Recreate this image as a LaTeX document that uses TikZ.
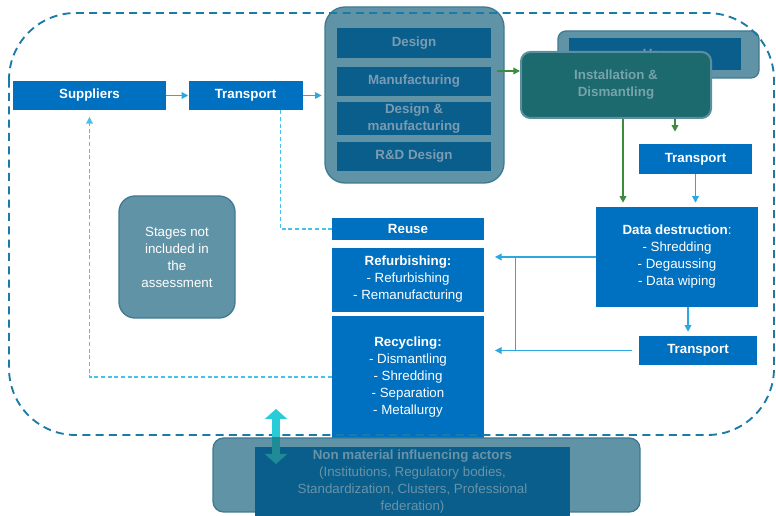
\documentclass[tikz,border=0pt]{standalone}
\usepackage{fontspec}
\setmainfont{Liberation Sans}
\usetikzlibrary{arrows.meta,calc,positioning}
\newcommand\stagefont{\fontsize{10}{12.75}\selectfont}
\definecolor{stageblue}{HTML}{0070C0}
\definecolor{panelgray}{HTML}{6193A7}
\definecolor{paneledge}{HTML}{3F7A92}
\definecolor{ghostblue}{HTML}{0A5E8B}
\definecolor{ghosttext}{HTML}{7A9CB2}
\definecolor{installteal}{HTML}{1C6A6E}
\definecolor{installedge}{HTML}{5B8F9F}
\definecolor{installtext}{HTML}{76A3AC}
\definecolor{flowblue}{HTML}{2AA9E0}
\definecolor{dashlight}{HTML}{45C1EE}
\definecolor{boundblue}{HTML}{1A7BA6}
\definecolor{greenflow}{HTML}{3D8B3D}
\definecolor{cyanarrow}{HTML}{27CCD8}
\definecolor{cyandark}{HTML}{1F8B96}
\definecolor{actortext}{HTML}{6893A8}
\tikzset{
  stage/.style={fill=stageblue, text=white, font=\stagefont\bfseries, inner sep=0pt, align=center},
  listbox/.style={fill=stageblue, text=white, font=\stagefont, inner sep=0pt, align=center, minimum width=114pt},
  ghost/.style={fill=ghostblue, text=ghosttext, font=\stagefont\bfseries, inner sep=0pt, align=center, minimum width=115.5pt},
  panel/.style={draw=paneledge, line width=1pt, fill=panelgray, inner sep=0pt, align=center},
  install/.style={draw=installedge, line width=1.5pt, fill=installteal, rounded corners=7pt, text=installtext, font=\stagefont\bfseries, inner sep=0pt, align=center},
  flow/.style={-{Triangle[length=5pt,width=5pt]}, line width=0.9pt, draw=flowblue},
  link/.style={line width=0.9pt, draw=flowblue},
  greenlink/.style={-{Triangle[length=5pt,width=5pt]}, line width=1.1pt, draw=greenflow},
  returnlink/.style={line width=0.9pt, draw=dashlight, dash pattern=on 3pt off 2pt},
  boundary/.style={line width=1.4pt, draw=boundblue, dash pattern=on 6pt off 4pt, rounded corners=50pt},
  influence/.style={{Triangle[length=7.5pt,width=16.5pt]}-{Triangle[length=7.5pt,width=16.5pt]}, line width=6pt, draw=cyanarrow}
}
\begin{document}
\begin{tikzpicture}[x=0.75pt, y=-0.75pt]
  \useasboundingbox (0,0) rectangle (776,516);

  % supply side
  \node[stage, minimum width=114.75pt, minimum height=21.75pt] (suppliers) at (89.5,95.5) {Suppliers};
  \node[stage, minimum width=85.5pt, minimum height=21.75pt, right=16.5pt of suppliers] (transport1) {Transport};

  % production group
  \node[panel, minimum width=134.25pt, minimum height=132pt, rounded corners=15pt] (production) at (414.5,95) {};
  \node[ghost, minimum height=22.5pt] (design) at (414,43) {Design};
  \node[ghost, minimum height=21.75pt, below=6pt of design] (manufacturing) {Manufacturing};
  \node[ghost, minimum height=24.75pt, below=4.5pt of manufacturing] (codesign) {Design \&\\manufacturing};
  \node[ghost, minimum height=21.75pt, below=4.5pt of codesign] (rnd) {R\&D Design};

  % use phase
  \node[panel, minimum width=150.75pt, minimum height=35.25pt, rounded corners=6pt] (useframe) at (658.5,54.5) {};
  \node[ghost, minimum width=129pt, minimum height=24pt] (use) at (655,54) {Use};
  \node[install, minimum width=142.5pt, minimum height=49.5pt] (install) at (616,85) {Installation \&\\Dismantling};

  \node[stage, minimum width=84.75pt, minimum height=22.5pt] (transport2) at (695.5,159) {Transport};
  \node[listbox, minimum width=121.5pt, minimum height=75pt] (destruction) at (677,257) {\textbf{Data destruction}:\\- Shredding\\- Degaussing\\- Data wiping};
  \node[stage, minimum width=88.5pt, minimum height=21.75pt] (transport3) at (698,350.5) {Transport};

  % end of life
  \node[stage, minimum width=114pt, minimum height=16.5pt] (reuse) at (408,229) {Reuse};
  \node[listbox, minimum height=48pt, below=5.25pt of reuse] (refurbishing) {\textbf{Refurbishing:}\\- Refurbishing\\- Remanufacturing};
  \node[listbox, minimum height=91.5pt, below=3pt of refurbishing] (recycling) {\textbf{Recycling:}\\- Dismantling\\- Shredding\\- Separation\\- Metallurgy};

  \node[panel, text=white, font=\stagefont, minimum width=87pt, minimum height=91.5pt, rounded corners=12pt] (excluded) at (177,257) {Stages not\\included in\\the\\assessment};

  % flows
  \draw[flow] (suppliers) -- (transport1);
  \draw[flow, shorten >=2pt] (transport1.east) -- (transport1.east -| production.west);
  \draw[greenlink] ($(install.west)+(-23,-14)$) -- ($(install.west)+(0,-14)$);
  \coordinate (dropdown) at ($(install.south)+(7,0)$);
  \coordinate (dropuse) at ($(install.south)+(59,0)$);
  \draw[greenlink, shorten >=3pt] (dropdown) -- (dropdown |- destruction.north);
  \draw[greenlink, shorten >=9pt] (dropuse) -- (dropuse |- transport2.north);
  \draw[flow, shorten >=3pt] (transport2) -- (transport2 |- destruction.north);
  \coordinate (dropout) at ($(destruction.south)+(11,0)$);
  \draw[flow, shorten >=3pt] (dropout) -- (dropout |- transport3.north);
  \draw[flow, shorten >=8pt] (destruction.west) -- (destruction.west -| refurbishing.east);
  \draw[flow, shorten <=5pt, shorten >=8pt] (transport3.west) -- (transport3.west -| recycling.east);
  \coordinate (branch) at ($(destruction.west -| refurbishing.east)+(31,0)$);
  \draw[link] (branch) -- (branch |- transport3.west);

  % returns
  \coordinate (reusebend) at ($(transport1.south)+(35,0)$);
  \draw[returnlink] (reusebend) |- (reuse.west);
  \draw[returnlink, -{Triangle[length=5pt,width=5pt]}, shorten >=5pt] (recycling.west) -| (suppliers.south);

  % assessment boundary
  \draw[boundary] (9,13) rectangle (774,435);

  % outside actors
  \coordinate (actorstop) at (276,409);
  \coordinate (actorsbottom) at (276,464);
  \draw[influence] (actorsbottom) -- (actorstop);
  \node[panel, minimum width=320.25pt, minimum height=55.5pt, rounded corners=8pt] (actorsframe) at (426.5,475) {};
  \node[ghost, text=actortext, font=\stagefont, minimum width=236.25pt, minimum height=51.75pt] (actors) at (412.5,481.5) {\textbf{Non material influencing actors}\\(Institutions, Regulatory bodies,\\Standardization, Clusters, Professional\\federation)};
  \begin{scope}
    \clip (actorsframe.north west) rectangle (actorsframe.south east);
    \draw[influence, draw=cyandark] (actorsbottom) -- (actorstop);
  \end{scope}
\end{tikzpicture}
\end{document}
